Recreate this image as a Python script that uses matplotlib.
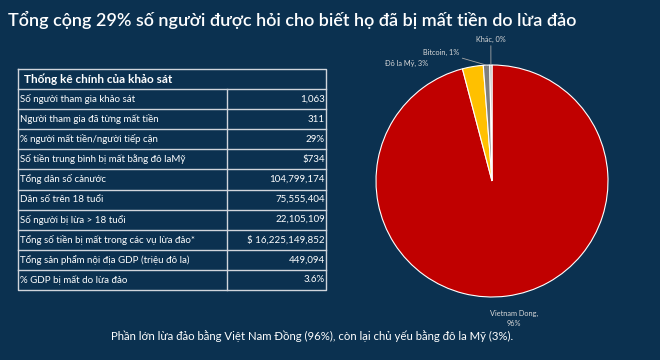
import matplotlib
matplotlib.use("Agg")
import matplotlib.pyplot as plt
import numpy as np

plt.rcParams['font.family'] = ['Lato', 'DejaVu Sans']

title = "Tổng cộng 29% số người được hỏi cho biết họ đã bị mất tiền do lừa đảo"
table_title = "Thống kê chính của khảo sát"
row_labels = [
    "Số người tham gia khảo sát",
    "Người tham gia đã từng mất tiền",
    "% người mất tiền/người tiếp cận",
    "Số tiền trung bình bị mất bằng đô laMỹ",
    "Tổng dân số cảnước",
    "Dân số trên 18 tuổi",
    "Số người bị lừa > 18 tuổi",
    "Tổng số tiền bị mất trong các vụ lừa đảo*",
    "Tổng sản phẩm nội địa GDP (triệu đô la)",
    "% GDP bị mất do lừa đảo",
]
row_values = [
    "1,063", "311", "29%", "$734", "104,799,174", "75,555,404",
    "22,105,109", "$ 16,225,149,852", "449,094", "3.6%",
]
pie_labels = ["Vietnam Dong", "Đô la Mỹ", "Bitcoin", "Khác"]
pie_values = [95.9, 2.9, 0.9, 0.3]
pie_pct = ["96%", "3%", "1%", "0%"]
footnote = "Phần lớn lừa đảo bằng Việt Nam Đồng (96%), còn lại chủ yếu bằng đô la Mỹ (3%)."

BG = "#0b3150"
W, H = 660, 360
fig = plt.figure(figsize=(6.6, 3.6), dpi=100, facecolor=BG)

ov = fig.add_axes([0, 0, 1, 1])
ov.set_xlim(0, W)
ov.set_ylim(H, 0)
ov.axis('off')
ov.set_facecolor(BG)

ov.text(8, 20, title, color="white", fontsize=12.95, fontweight="semibold",
        va="center", ha="left")

# table
tx0, tx1, tcol = 18, 326, 227
ty0, thead = 69, 89
row_h = 20.1
n = len(row_labels)
ty1 = thead + n * row_h
lc = "#d0d5dc"
lw = 1.0
ov.plot([tx0, tx1, tx1, tx0, tx0], [ty0, ty0, ty1, ty1, ty0], color=lc, lw=lw)
ov.plot([tx0, tx1], [thead, thead], color=lc, lw=lw)
for i in range(1, n):
    y = thead + i * row_h
    ov.plot([tx0, tx1], [y, y], color=lc, lw=lw)
ov.plot([tcol, tcol], [thead, ty1], color=lc, lw=lw)
ov.text(24, (ty0 + thead) / 2, table_title, color="white", fontsize=8.5,
        fontweight="bold", va="center", ha="left")
for i, (lab, val) in enumerate(zip(row_labels, row_values)):
    yc = thead + (i + 0.5) * row_h
    ov.text(tx0 + 1.5, yc, lab, color="white", fontsize=7.0, va="center", ha="left")
    ov.text(tx1 - 1, yc, val, color="white", fontsize=7.0, va="center", ha="right")

ov.text(513, 336, footnote, color="white", fontsize=8.2, va="center", ha="right")

# pie
cx, cy, r = 492, 181, 116
pax = fig.add_axes([(cx - r) / W, (H - cy - r) / H, 2 * r / W, 2 * r / H])
colors = ["#c00000", "#ffc000", "#7f7f7f", "#a5a5a5"]
wedges, _ = pax.pie(pie_values, colors=colors, startangle=90, counterclock=False,
                    wedgeprops=dict(edgecolor="white", linewidth=0.8))
pax.set_xlim(-1, 1)
pax.set_ylim(-1, 1)
pax.set_aspect('equal')
pax.axis('off')

lab_col = "#d9d9d9"
fs = 5.3
def mid(w):
    a = np.deg2rad((w.theta1 + w.theta2) / 2)
    return np.cos(a), np.sin(a)

pax.text(0.19, -1.11, f"{pie_labels[0]},\n{pie_pct[0]}", color=lab_col, fontsize=fs,
         ha="center", va="top", linespacing=1.6, clip_on=False)
pax.text(-0.55, 0.98, f"{pie_labels[1]}, {pie_pct[1]}", color=lab_col, fontsize=fs,
         ha="right", va="bottom", clip_on=False)
mx, my = mid(wedges[2])
pax.annotate(f"{pie_labels[2]}, {pie_pct[2]}", xy=(mx, my), xytext=(-0.28, 1.08),
             color=lab_col, fontsize=fs, ha="right", va="bottom",
             arrowprops=dict(arrowstyle="-", color="#a6a6a6", lw=0.6,
                             shrinkA=0, shrinkB=0), annotation_clip=False)
mx, my = mid(wedges[3])
pax.annotate(f"{pie_labels[3]}, {pie_pct[3]}", xy=(mx, my), xytext=(-0.01, 1.19),
             color=lab_col, fontsize=fs, ha="center", va="bottom",
             arrowprops=dict(arrowstyle="-", color="#a6a6a6", lw=0.6,
                             shrinkA=0, shrinkB=0), annotation_clip=False)

fig.savefig("out.png", dpi=100, facecolor=BG)
